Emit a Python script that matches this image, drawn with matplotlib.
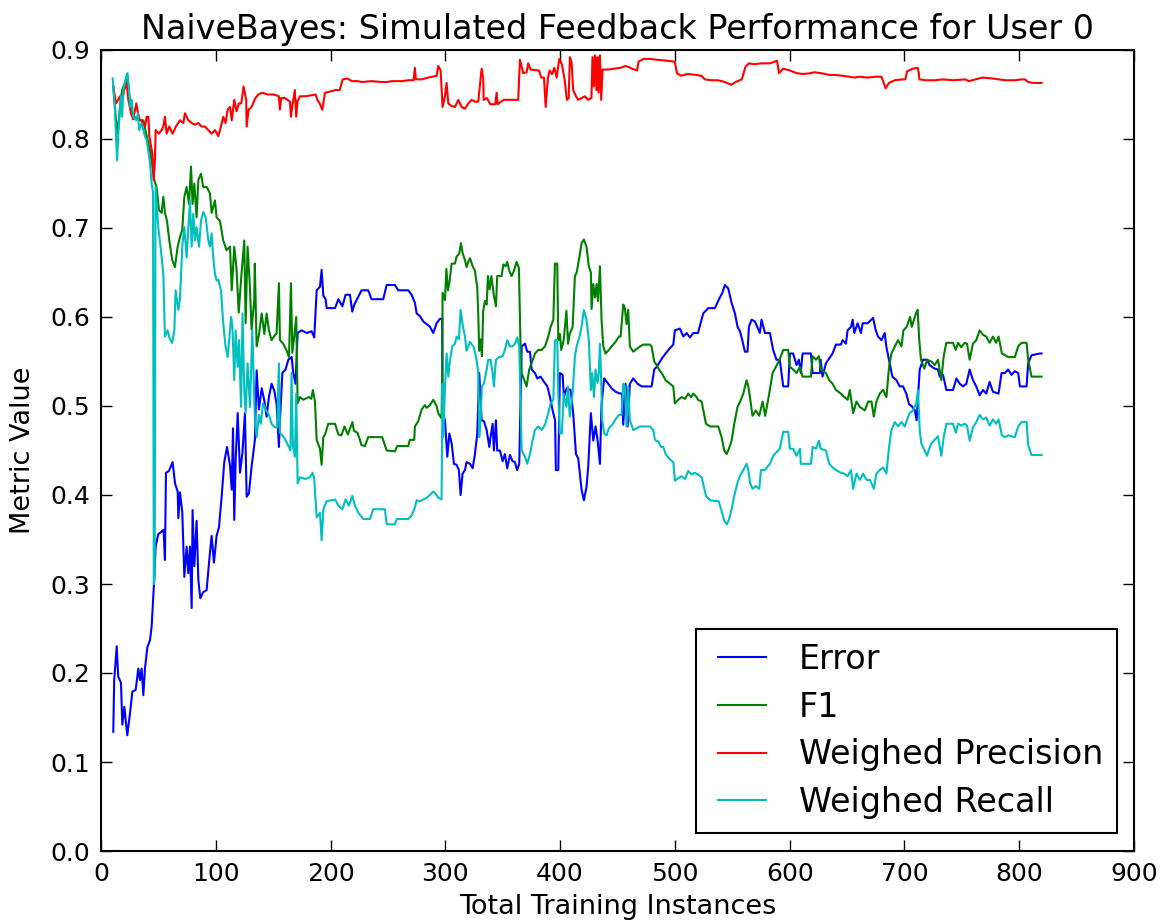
import matplotlib
matplotlib.use("Agg")
import matplotlib.pyplot as plt
from matplotlib.lines import Line2D
from matplotlib.legend_handler import HandlerLine2D

# ---------------- data ----------------
err_x = [10.7,11.5,13.7,15,17.4,18.6,20.3,22.9,25.3,27.3,30.2,32.5,34,35.4,36.9,38.3,40.4,42.7,44.1,46.2,47.6,49.9,52.9,54.5,55.7,56.6,59.2,62.4,64.5,66.8,67.4,68.8,70.8,72.6,74.6,76,77.5,79,79.8,81.3,83.3,84.8,86.5,89.1,92,94.9,96.4,98.4,100.7,102.8,105.1,107.4,109.8,112.4,113.9,115,116.1,117.3,119.1,121.1,123.2,125.4,126.9,128.9,131.2,134.1,
         135.6,137.6,140,142.3,144.3,146.3,148.6,151,153,155,155.9,158,160.8,163.2,166.1,167.5,169.5,171.3,174.8,179.2,183.5,185.8,187.9,190.8,192.2,193.7,195.7,196.6,203.9,206.8,210.3,213.1,216.9,218.9,220.7,224.2,227,232.8,235.7,245.9,248.9,256.1,259,267.7,270.6,273.5,275,277.9,280.8,283.7,286.6,289.5,292.4,295.3,297.3,
         297.6,299.7,301.7,303.5,305.5,307.5,309.8,311.8,313.3,315,317.1,318.5,321.5,323.8,325.8,327.8,329.5,330.7,331.6,333.6,336,338.3,339.4,341.2,342.3,344.1,345.2,347.6,349.9,351.9,353.9,356.3,358.6,360.6,362.6,364.4,366.5,369.4,371.4,373.7,375.2,378.1,380.1,383,386,388.9,391.2,393.5,395.6,396.3,398.4,399.8,402.2,403.3,405.7,409.1,411.4,413.8,415.8,418.7,420.7,423,424.5,426.8,428.9,430.9,432.7,434.7,436.1,438.4,441.9,444.8,448.3,452.1,454,455,457,458.8,460.8,463.7,467.5,471,479.7,482,484.1,487,489,491.9,495.7,498.6,500,504.4,507.3,510.2,513.1,516,520.1,524.7,529.1,534.9,538.4,541.3,543.6,546.5,549.4,552.3,554.6,556.7,558.7,561,563.3,564.5,566.8,569.7,
         574,575.5,578.5,582.8,585.6,588.5,591.4,594.4,598.7,600.2,603,606,608,609.7,611.2,618.5,620,626.3,627,628.6,631.6,637.4,640.3,644.6,646.1,649,650.5,653.4,654.9,656.3,659.2,662.1,663.6,668,672.7,675,677,680,682.8,684.2,687.1,689.5,693,695.9,698.8,701.6,704,706.2,709.1,710.6,712,713.3,716.2,719.7,721.9,726.3,729.2,730.7,733.6,736.5,742.3,745.3,748.2,751,753.9,756.8,759.7,762.6,765.5,768.4,771.3,774.2,777.1,782,784.6,787.5,790.4,793.3,796.2,799.1,800.6,806.4,807.8,810.7,818,819.5]
err_y = [0.134,0.192,0.230,0.196,0.189,0.142,0.162,0.130,0.155,0.179,0.181,0.205,0.192,0.205,0.175,0.205,0.229,0.237,0.252,0.301,0.342,0.356,0.359,0.361,0.327,0.425,0.427,0.437,0.413,0.404,0.374,0.403,0.381,0.308,0.342,0.312,0.342,0.273,0.383,0.320,0.371,0.305,0.284,0.291,0.293,0.335,0.354,0.324,0.354,0.364,0.398,0.437,0.454,0.433,0.406,0.475,0.372,0.439,0.492,0.425,0.447,0.492,0.398,0.402,0.432,0.462,
         0.540,0.496,0.52,0.506,0.488,0.51,0.525,0.517,0.502,0.454,0.484,0.537,0.541,0.552,0.555,0.537,0.525,0.582,0.585,0.582,0.584,0.577,0.630,0.634,0.653,0.624,0.62,0.610,0.610,0.62,0.612,0.625,0.625,0.606,0.614,0.623,0.630,0.630,0.62,0.62,0.636,0.636,0.630,0.630,0.625,0.616,0.604,0.601,0.595,0.592,0.589,0.582,0.593,0.598,0.598,
         0.492,0.484,0.443,0.469,0.458,0.435,0.434,0.428,0.400,0.424,0.428,0.437,0.435,0.430,0.446,0.469,0.537,0.510,0.484,0.483,0.473,0.454,0.465,0.480,0.450,0.484,0.450,0.450,0.438,0.446,0.430,0.445,0.438,0.437,0.428,0.435,0.567,0.570,0.561,0.561,0.541,0.537,0.531,0.533,0.527,0.522,0.510,0.495,0.484,0.428,0.428,0.537,0.535,0.510,0.520,0.518,0.492,0.446,0.441,0.406,0.394,0.409,0.432,0.492,0.461,0.477,0.461,0.435,0.502,0.531,0.525,0.520,0.516,0.514,0.514,0.479,0.525,0.477,0.525,0.531,0.525,0.522,0.522,0.541,0.544,0.550,0.554,0.559,0.565,0.569,0.585,0.587,0.578,0.582,0.577,0.582,0.582,0.604,0.610,0.610,0.620,0.627,0.636,0.632,0.616,0.604,0.589,0.584,0.574,0.561,0.561,0.589,0.597,0.595,
         0.582,0.597,0.582,0.582,0.563,0.552,0.552,0.522,0.522,0.559,0.559,0.546,0.552,0.537,0.559,0.559,0.537,0.537,0.552,0.533,0.548,0.559,0.569,0.569,0.574,0.570,0.585,0.589,0.597,0.582,0.593,0.582,0.593,0.593,0.599,0.585,0.578,0.574,0.582,0.567,0.548,0.533,0.529,0.522,0.522,0.514,0.502,0.500,0.495,0.484,0.514,0.541,0.552,0.552,0.546,0.542,0.541,0.533,0.535,0.518,0.518,0.531,0.525,0.522,0.525,0.541,0.529,0.522,0.512,0.518,0.514,0.527,0.516,0.514,0.537,0.537,0.541,0.535,0.539,0.537,0.522,0.522,0.548,0.557,0.559,0.559]

f1_x = [10.7,12.8,14.5,16.5,18.4,20.8,23.1,25.1,27.1,30.8,35.1,38,40.6,42.7,44.7,46.4,48.5,50.5,52.8,54.3,55.7,57.5,59.5,62.1,64.4,66.8,68.8,70.8,72.6,74.6,76.7,78.4,79.8,81.3,83.3,84.8,87.1,89.1,92,94.9,96.4,99.3,100.7,103.6,106.5,109.4,112.4,113.9,116.1,118,120,122,124.8,126,127.7,129.5,131.2,133.5,134,135.6,137.6,140,142.3,144.3,146.3,148.6,150.7,153,155,155.9,158.8,161.8,163.8,165.5,166.7,168.5,170.1,171.3,173.4,176.3,181,183.2,184.6,186.4,187.9,190.8,192.2,193.7,195.2,198,203.9,206.8,209.4,212.2,215.1,219,220.4,223.4,225.6,227,230,232.8,237.2,245,248.9,256.1,258,267.7,269.1,272.9,273.5,276.4,279.3,282.2,283.7,286.6,289.5,292.4,293.8,296.7,297.3,
        297.6,299.7,300.9,302.3,303.5,305.5,308.4,309.8,312.1,313.6,315,317.1,318.5,320,321.5,323.8,325.8,327.8,328.7,329.5,330.7,331.9,333,334.5,336,337.1,338.6,340.1,342.3,344.1,345.2,349,350.5,352.5,353.9,355.7,357.7,359.8,362.1,364.1,365.6,366.5,368.5,370.8,373.1,376.1,378.1,381,383.9,386.8,389.7,391.7,394.1,395.5,397.5,398.4,399.8,401,403.1,405.5,406.9,408.4,410.9,412.9,414.4,416.9,418.7,420.7,423,425,426.8,427.4,428.9,430.4,431.8,433,434.7,436.1,437.6,439.6,442.5,444.8,448.3,451.2,452.7,455,456.4,457.9,459.3,460.8,463.7,466.6,469.6,472.5,478.3,479.7,482,484.1,486.2,488.5,491.9,495.7,498.6,500,503,505.9,508.8,511.6,514,516,518.9,520.1,523.3,527.1,530.9,537.8,540.7,543,545.1,547.1,549.4,551.7,554.6,556.9,559.6,562.5,564,565.4,567.6,570.5,573.5,576.4,578.7,582.2,585.1,588,591.2,594.4,598.7,600.2,603.1,606,609,611.2,618.5,620,622.9,625.5,627,631.6,634.5,637.4,640.3,644.6,647.6,650.5,652.4,655.3,658.2,661.1,665.5,668.4,671.3,673.3,675.6,678.5,681.4,684.3,686.6,688.7,691.6,694.5,697.4,699.1,702,704.9,706.4,710,711.5,712.9,714.4,717.3,719.7,723.4,726.3,729.2,732.1,734.2,736.5,742.3,744.7,746.7,749.5,752.5,754.5,756.8,759.7,762.6,765.5,768.4,771.3,774.2,777.1,779.9,782,784.9,787.8,790.4,796.2,799.1,802,806.4,807.8,810.7,819.5]
f1_y = [0.859,0.825,0.806,0.836,0.855,0.863,0.870,0.844,0.827,0.823,0.821,0.814,0.799,0.787,0.769,0.754,0.745,0.720,0.717,0.735,0.717,0.708,0.686,0.664,0.656,0.679,0.690,0.698,0.735,0.746,0.727,0.769,0.727,0.750,0.712,0.754,0.761,0.746,0.746,0.739,0.717,0.731,0.712,0.708,0.686,0.675,0.679,0.630,0.679,0.655,0.605,0.642,0.686,0.593,0.679,0.640,0.586,0.619,0.660,0.567,0.58,0.604,0.581,0.604,0.585,0.574,0.578,0.582,0.638,0.574,0.570,0.562,0.555,0.638,0.560,0.58,0.600,0.503,0.510,0.507,0.510,0.508,0.518,0.505,0.462,0.452,0.434,0.465,0.468,0.480,0.480,0.468,0.467,0.477,0.468,0.482,0.472,0.470,0.462,0.456,0.455,0.465,0.465,0.465,0.450,0.449,0.455,0.455,0.462,0.462,0.477,0.483,0.496,0.501,0.498,0.501,0.507,0.500,0.492,0.486,0.541,
        0.627,0.619,0.654,0.630,0.638,0.660,0.660,0.668,0.671,0.683,0.672,0.664,0.656,0.662,0.666,0.657,0.652,0.633,0.603,0.562,0.575,0.556,0.607,0.618,0.614,0.646,0.631,0.646,0.624,0.612,0.646,0.646,0.659,0.657,0.662,0.652,0.646,0.652,0.662,0.655,0.563,0.537,0.530,0.522,0.541,0.552,0.559,0.563,0.563,0.567,0.578,0.589,0.597,0.660,0.660,0.574,0.581,0.563,0.574,0.607,0.570,0.581,0.589,0.646,0.650,0.668,0.683,0.687,0.679,0.657,0.650,0.609,0.637,0.622,0.637,0.618,0.657,0.597,0.567,0.559,0.563,0.567,0.572,0.578,0.578,0.614,0.610,0.592,0.608,0.567,0.561,0.564,0.567,0.569,0.569,0.567,0.550,0.546,0.541,0.537,0.529,0.525,0.522,0.503,0.507,0.510,0.508,0.514,0.510,0.514,0.510,0.507,0.505,0.480,0.477,0.477,0.465,0.450,0.446,0.452,0.461,0.480,0.499,0.505,0.514,0.529,0.522,0.510,0.489,0.495,0.489,0.505,0.489,0.514,0.537,0.544,0.552,0.563,0.563,0.544,0.541,0.537,0.544,0.533,0.533,0.556,0.552,0.556,0.541,0.537,0.529,0.525,0.518,0.514,0.510,0.507,0.518,0.492,0.505,0.499,0.495,0.505,0.505,0.488,0.505,0.514,0.518,0.510,0.544,0.559,0.567,0.574,0.567,0.585,0.589,0.600,0.589,0.604,0.608,0.574,0.552,0.542,0.552,0.550,0.546,0.552,0.529,0.556,0.571,0.571,0.563,0.571,0.566,0.571,0.570,0.552,0.570,0.574,0.585,0.580,0.578,0.571,0.578,0.571,0.578,0.559,0.557,0.555,0.555,0.567,0.571,0.571,0.552,0.533,0.533]

prec_x = [10.7,13.1,14.5,16.5,18,20.2,22.3,23.8,26.1,28,30.8,32.3,33.8,36.7,38.3,39.8,41.2,42.1,44.7,45.9,47,47.6,50.5,52.8,54.3,55.7,57.2,59.5,62.4,65.3,68.8,71.7,73.2,76.1,79,81.9,84.8,87.7,90.6,93.5,96.4,99.3,102.2,104.5,106.5,108.5,110.3,112.4,113.9,116.1,118.1,120.1,122.2,124.2,126.5,126.9,128.6,131.2,134.1,136.9,140.7,145.1,150.7,155,155.9,157,160.3,164.6,165.5,166.8,168.9,170.1,171.3,173.4,178.4,187,188.5,190.5,192.8,195.2,198.6,204.4,208,210.6,214.6,218.6,224,227,235.7,245,248.9,253.3,262,267.7,272.3,273.5,274.3,279.3,285,292.4,293.8,295.9,
          297.6,299.7,301.1,302.6,305.5,308.4,311.3,314.2,317.1,320,322.9,325.8,328.7,331.6,333,333.4,336.3,339.2,343.5,344.7,345.5,350.9,357,363.5,365,367.9,370.8,372.2,374.3,381.6,383.6,386,387.4,389.4,390.9,393,395,397,399.3,401.5,403.9,405.9,407.5,408.5,410,411.4,413.8,415.8,418.7,421.6,424.4,427.3,428.2,429.4,430.3,431.7,432.6,433.5,434.7,435.8,437,441.3,446.8,452.6,456.9,459.8,462.7,467,468.4,472.8,478.6,484.4,493.1,498.9,500,501.8,505.2,511,518.3,523.2,526.1,531.9,537.7,543.5,549.1,552.9,558.3,561.5,564.5,569.2,575,580.8,582.8,587.2,589,590.7,594.4,600.2,606,612,618.5,621.4,627.2,634.5,640.3,646.1,651.9,656.3,660.7,668,675,680,683.6,686.5,691.6,697.9,700.8,702.3,707.2,711.5,712.5,713,718.8,726.3,733.6,742.3,753.1,756,762,768,776.7,782,787.8,796.2,802,805,807.8,812.2,819.5]
prec_y = [0.859,0.840,0.843,0.848,0.840,0.855,0.863,0.844,0.829,0.822,0.840,0.829,0.821,0.821,0.814,0.825,0.825,0.803,0.784,0.754,0.777,0.810,0.806,0.810,0.814,0.825,0.806,0.814,0.806,0.814,0.821,0.818,0.829,0.821,0.818,0.816,0.818,0.814,0.814,0.810,0.806,0.810,0.803,0.814,0.825,0.818,0.833,0.836,0.821,0.844,0.831,0.840,0.840,0.859,0.844,0.814,0.833,0.836,0.845,0.850,0.852,0.850,0.850,0.848,0.833,0.846,0.846,0.842,0.825,0.838,0.855,0.825,0.843,0.848,0.848,0.850,0.844,0.840,0.833,0.852,0.853,0.855,0.855,0.867,0.868,0.865,0.865,0.864,0.865,0.864,0.864,0.865,0.865,0.866,0.866,0.880,0.867,0.867,0.869,0.871,0.882,0.877,
          0.836,0.848,0.863,0.840,0.837,0.836,0.844,0.836,0.834,0.840,0.844,0.842,0.842,0.879,0.868,0.844,0.846,0.839,0.839,0.852,0.839,0.844,0.844,0.844,0.889,0.874,0.875,0.885,0.878,0.877,0.869,0.869,0.836,0.869,0.877,0.873,0.880,0.869,0.890,0.884,0.867,0.844,0.846,0.892,0.886,0.855,0.848,0.844,0.846,0.848,0.844,0.846,0.892,0.859,0.894,0.855,0.892,0.852,0.894,0.844,0.878,0.878,0.879,0.880,0.882,0.881,0.879,0.877,0.887,0.890,0.890,0.889,0.888,0.887,0.886,0.874,0.871,0.873,0.872,0.871,0.867,0.866,0.866,0.864,0.861,0.864,0.867,0.881,0.885,0.884,0.885,0.885,0.885,0.887,0.888,0.874,0.879,0.877,0.874,0.873,0.874,0.875,0.874,0.872,0.872,0.871,0.870,0.869,0.870,0.869,0.870,0.870,0.857,0.863,0.866,0.867,0.867,0.876,0.879,0.880,0.874,0.867,0.866,0.866,0.867,0.866,0.867,0.865,0.867,0.869,0.868,0.867,0.866,0.866,0.867,0.867,0.864,0.863,0.863]

rec_x = [10.2,12,13.1,14,15.1,16.5,17.4,18.4,19.5,20.8,22.3,23.1,24.4,25.3,26.8,28,30.8,32.2,33.2,35.3,37,38.3,39.8,42.7,44.1,45.3,46,46.8,47.5,49.9,51.9,54.3,55.7,58,60,62.1,63.9,65,67.4,68.8,70.8,72.6,74.6,76.1,77.5,79,80.4,81.9,83.3,85.4,87.1,89.1,91.2,93.5,94.9,96.4,97.8,99.3,100.7,102.2,104.5,106.5,108.5,110.3,112.4,113.3,114.5,116.1,117.3,119.1,120.3,122,123.3,124.8,126,127.7,129.8,131.8,134.1,135.6,137.6,139.2,141.2,143.5,146.3,148.6,151.5,153.5,155,155.9,159.3,162.2,165.1,166,167.2,168.9,170.1,171.3,173.4,178,182.2,184.3,185.8,187.9,190.8,192.2,193.7,196.6,203.9,206.8,210.3,213.1,216,218.9,221.3,224.2,228.5,234.3,237.2,247.4,248.9,256.1,257.6,267.7,270.6,273.5,275,277.9,280.8,283.7,286.6,289.5,292.4,293.8,296.7,
         297.6,298.2,299.7,301.1,302.6,304.1,306.1,308.4,309.8,311.8,313.3,315,317.1,318.5,321.5,324.9,327.2,328.7,329.5,330.7,331.9,333.6,336,337.4,339.4,341.2,342.3,344.1,347,349.9,351.9,353.9,356.3,358.6,360.6,362.6,364.4,366.5,369.4,371.4,373.7,376.1,378.1,381,383.9,386.8,389.7,391.7,394.1,395.5,397.5,398.4,399.8,401.5,403.1,405.5,406.9,408.4,410.9,412.9,414.4,416.9,418.7,420.7,423,425,426.8,428,429.5,430.9,432.6,433.7,434.7,435.6,436.7,438.4,440.5,442.5,445.4,448.3,451.2,453.5,455,456.4,457.9,459.3,460.8,463.7,466.6,469.6,478.3,481.2,482.6,485.6,487.9,489.9,491.9,495.7,498.6,500,503,505.9,508.8,511.6,514.5,517.4,520.1,523.3,527.1,530.9,538.2,540.7,543,545.1,547.1,549.4,551.7,554.6,556.9,559.6,562.5,564,565.4,567.6,570.5,573.5,575,578.3,582.8,585.6,588.5,591.4,594.4,598.7,600.2,603.1,606,609,609.7,618.5,620,622.9,625.5,627,631.6,634.5,637.4,640.3,644.6,647.6,650.5,653.4,655.3,658.2,661.1,664,667,670,673.3,675.6,678.5,681.4,684.3,686.6,688.7,691.6,694.5,697.4,700.3,701.6,704.5,707.4,710.3,711.8,713.3,714.7,717.6,719.7,721.6,723.4,726.3,729.2,732.1,734.2,736.5,742.3,744.7,746.7,749.5,752.5,754.5,756.8,759.7,762.6,765.5,768.4,771.3,774.2,777.1,779.9,782,784.9,787.8,790.4,796.2,799.1,802,806.4,807.8,810.7,819.5]
rec_y = [0.868,0.836,0.802,0.776,0.806,0.833,0.848,0.825,0.855,0.863,0.872,0.874,0.855,0.836,0.844,0.825,0.821,0.829,0.810,0.818,0.810,0.803,0.799,0.773,0.750,0.740,0.300,0.310,0.746,0.701,0.679,0.648,0.578,0.585,0.575,0.571,0.585,0.630,0.608,0.620,0.679,0.701,0.667,0.701,0.731,0.679,0.716,0.686,0.701,0.679,0.708,0.718,0.712,0.686,0.679,0.694,0.667,0.648,0.641,0.642,0.630,0.593,0.567,0.555,0.585,0.600,0.590,0.529,0.585,0.544,0.574,0.499,0.604,0.518,0.492,0.548,0.499,0.585,0.484,0.465,0.490,0.480,0.503,0.496,0.490,0.480,0.476,0.476,0.548,0.470,0.465,0.458,0.450,0.537,0.455,0.443,0.514,0.413,0.420,0.418,0.420,0.425,0.418,0.375,0.380,0.349,0.384,0.393,0.395,0.388,0.384,0.395,0.388,0.399,0.388,0.380,0.373,0.373,0.384,0.384,0.367,0.367,0.373,0.373,0.377,0.386,0.394,0.393,0.395,0.397,0.400,0.404,0.400,0.397,0.395,
         0.525,0.465,0.522,0.559,0.533,0.552,0.567,0.570,0.578,0.575,0.608,0.592,0.578,0.562,0.572,0.566,0.552,0.537,0.465,0.484,0.522,0.525,0.541,0.552,0.552,0.537,0.522,0.552,0.555,0.556,0.563,0.574,0.567,0.567,0.570,0.577,0.567,0.450,0.443,0.435,0.446,0.462,0.473,0.477,0.473,0.479,0.492,0.503,0.507,0.574,0.574,0.514,0.469,0.469,0.514,0.499,0.522,0.488,0.514,0.556,0.567,0.578,0.589,0.608,0.597,0.574,0.518,0.537,0.510,0.541,0.526,0.537,0.570,0.537,0.484,0.469,0.467,0.475,0.479,0.485,0.490,0.490,0.525,0.522,0.477,0.522,0.484,0.473,0.475,0.477,0.477,0.473,0.462,0.460,0.454,0.454,0.446,0.440,0.437,0.416,0.419,0.421,0.418,0.427,0.423,0.425,0.423,0.420,0.399,0.394,0.393,0.382,0.371,0.367,0.372,0.384,0.399,0.414,0.422,0.428,0.435,0.428,0.414,0.407,0.410,0.407,0.428,0.428,0.435,0.444,0.448,0.452,0.471,0.471,0.452,0.452,0.444,0.452,0.435,0.435,0.454,0.452,0.461,0.452,0.450,0.435,0.431,0.428,0.425,0.424,0.421,0.428,0.407,0.424,0.417,0.424,0.417,0.417,0.407,0.424,0.428,0.431,0.424,0.454,0.473,0.482,0.477,0.482,0.477,0.482,0.492,0.495,0.503,0.518,0.473,0.458,0.450,0.444,0.452,0.458,0.462,0.466,0.444,0.465,0.480,0.480,0.470,0.480,0.478,0.480,0.478,0.461,0.476,0.482,0.490,0.485,0.487,0.478,0.485,0.480,0.485,0.467,0.465,0.467,0.465,0.477,0.482,0.482,0.456,0.445,0.445]

series = [
    ("Error", err_x, err_y, (0.0, 0.0, 1.0)),
    ("F1", f1_x, f1_y, (0.0, 0.5, 0.0)),
    ("Weighed Precision", prec_x, prec_y, (1.0, 0.0, 0.0)),
    ("Weighed Recall", rec_x, rec_y, (0.0, 0.75, 0.75)),
]
x_ticks = [0, 100, 200, 300, 400, 500, 600, 700, 800, 900]
y_ticks = [0.0, 0.1, 0.2, 0.3, 0.4, 0.5, 0.6, 0.7, 0.8, 0.9]

# ---------------- figure ----------------
plt.rcParams['font.family'] = ['DejaVu Sans']
fig = plt.figure(figsize=(11.68, 9.21), dpi=100)
ax = fig.add_axes([101/1168, 1 - 851/921, 1033/1168, 801/921])

for name, xs, ys, col in series:
    ax.plot(xs, ys, color=col, linewidth=1.5, label=name)

ax.set_xlim(0, 900)
ax.set_ylim(0.0, 0.9)
ax.set_xticks(x_ticks)
ax.set_yticks(y_ticks)
ax.set_xticklabels([str(t) for t in x_ticks])
ax.set_yticklabels(["%.1f" % t for t in y_ticks])
ax.tick_params(direction='in', length=8, width=1, top=True, right=True,
               labelsize=18, pad=8)
for s in ax.spines.values():
    s.set_linewidth(1.5)

ax.set_title("NaiveBayes: Simulated Feedback Performance for User 0", fontsize=24, pad=8)
ax.set_xlabel("Total Training Instances", fontsize=19.5, labelpad=6)
ax.set_ylabel("Metric Value", fontsize=19.5, labelpad=10)

leg = ax.legend(loc='lower right', bbox_to_anchor=(0.984, 0.0225), borderaxespad=0,
                fontsize=24, fancybox=False, frameon=True, handlelength=1.68,
                handletextpad=1.0, labelspacing=0.44, borderpad=0.42,
                handler_map={Line2D: HandlerLine2D(xpad=0.24)})
leg.get_frame().set_edgecolor('black')
leg.get_frame().set_linewidth(1.5)
leg.get_frame().set_alpha(1)

fig.savefig("out.png", dpi=100)
